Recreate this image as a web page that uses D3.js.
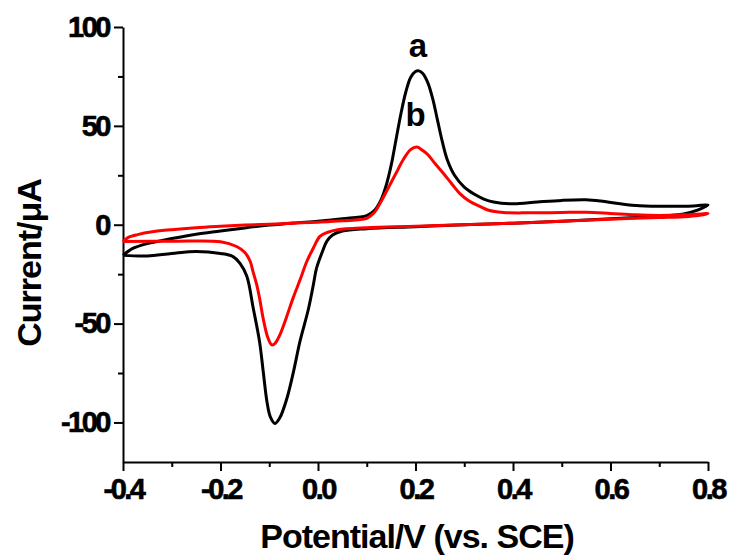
<!DOCTYPE html>
<html><head><meta charset="utf-8">
<script src="https://cdn.jsdelivr.net/npm/d3@7"></script>
<style>
html,body{margin:0;padding:0;background:#fff;}
svg text{font-family:"Liberation Sans",Arial,sans-serif;font-weight:bold;}
</style></head>
<body><svg id="chart" width="732" height="556"></svg>
<script>
// ---- data (potential V, current µA) ----
const xTicks = [-0.4, -0.2, 0.0, 0.2, 0.4, 0.6, 0.8];
const xMinorTicks = [-0.3, -0.1, 0.1, 0.3, 0.5, 0.7];
const yTicks = [-100, -50, 0, 50, 100];
const yMinorTicks = [-75, -25, 25, 75];
const seriesNames = ["a", "b"];
const seriesColors = ["#000000", "#ff0000"];

const aForward = [
  [-0.4,-15.5],[-0.38,-12],[-0.35,-9.5],[-0.3,-7],[-0.25,-4.8],[-0.2,-3.2],[-0.15,-1.6],
  [-0.1,-0.2],[-0.05,0.9],[0.0,1.8],[0.05,3],[0.1,4.6],[0.115,7],[0.13,13],[0.14,20],
  [0.15,30],[0.16,43],[0.17,56],[0.18,67],[0.19,74.5],[0.2,77.5],[0.207,77.8],[0.215,76.5],
  [0.225,72],[0.235,64],[0.245,53],[0.255,42],[0.265,33],[0.28,25],[0.3,19],[0.32,15.5],
  [0.34,13],[0.36,11.5],[0.4,10.6],[0.45,11.5],[0.5,12.3],[0.55,12.6],[0.58,12],
  [0.62,10.6],[0.66,9.6],[0.72,9.3],[0.77,9.5],[0.8,10]
];
const aReverse = [
  [0.8,10],[0.78,7.5],[0.75,5.5],[0.7,4.3],[0.6,3],[0.5,1.8],[0.4,0.8],[0.3,0],
  [0.2,-1],[0.1,-2],[0.05,-3.2],[0.03,-5.2],[0.018,-8.4],[0.01,-13],[-0.003,-22],
  [-0.01,-31],[-0.02,-43],[-0.037,-59],[-0.05,-74],[-0.064,-88],[-0.078,-97.5],
  [-0.088,-100.5],[-0.098,-97],[-0.105,-89],[-0.112,-75],[-0.12,-59],[-0.133,-42],
  [-0.146,-26],[-0.16,-19.5],[-0.175,-16],[-0.2,-14.5],[-0.25,-13.5],[-0.3,-14.5],
  [-0.35,-15.8],[-0.4,-15.5]
];
const bForward = [
  [-0.4,-8.5],[-0.39,-6.5],[-0.37,-5],[-0.34,-3.6],[-0.3,-2.5],[-0.25,-1.5],[-0.2,-0.8],
  [-0.15,-0.2],[-0.1,0.3],[-0.05,0.8],[0.0,1.3],[0.05,2],[0.1,3.2],[0.115,6],[0.13,12],
  [0.145,19],[0.16,26],[0.175,33],[0.19,38],[0.203,39.3],[0.215,37.5],[0.225,35.5],
  [0.24,31],[0.257,26],[0.275,20.5],[0.29,16],[0.31,12],[0.332,9.3],[0.35,7.3],
  [0.38,6.2],[0.43,6],[0.5,6.2],[0.55,6.3],[0.6,5.7],[0.65,5],[0.7,4.7],[0.75,5],[0.8,5.6]
];
const bReverse = [
  [0.8,5.6],[0.78,4.6],[0.75,4],[0.7,3.6],[0.6,2.8],[0.5,1.7],[0.4,0.8],[0.3,0],
  [0.2,-0.8],[0.1,-1.5],[0.04,-2.5],[0.02,-3.8],[0.004,-5.9],[-0.01,-12],[-0.023,-18.6],
  [-0.037,-28],[-0.051,-37],[-0.065,-47],[-0.078,-55.6],[-0.088,-60],[-0.095,-60.8],
  [-0.103,-57],[-0.112,-48],[-0.12,-37],[-0.126,-30],[-0.133,-24],[-0.139,-18.6],
  [-0.15,-14],[-0.167,-11],[-0.2,-8.6],[-0.3,-8.4],[-0.4,-8.5]
];
const labelPositions = [[0.205, 85], [0.2, 50]]; // label anchor in data units

// ---- layout ----
const svg = d3.select("#chart");
const mLeft = 123, mRight = 708, mTop = 27, mBottom = 462;
const x = d3.scaleLinear().domain([-0.4, 0.8]).range([mLeft, mRight]);
const y = d3.scaleLinear().domain([-120, 100]).range([mBottom, mTop]);

const fmtX = v => v.toFixed(1);
const fmtY = v => String(v);

// minor ticks
svg.append("g").attr("transform", `translate(0,${mBottom})`)
  .call(d3.axisBottom(x).tickValues(xMinorTicks).tickSize(5).tickFormat(""))
  .call(g => g.select(".domain").remove())
  .selectAll("line").attr("stroke", "#000").attr("stroke-width", 2);
svg.append("g").attr("transform", `translate(${mLeft},0)`)
  .call(d3.axisLeft(y).tickValues(yMinorTicks).tickSize(5).tickFormat(""))
  .call(g => g.select(".domain").remove())
  .selectAll("line").attr("stroke", "#000").attr("stroke-width", 2);

// major axes
const gx = svg.append("g").attr("transform", `translate(0,${mBottom})`)
  .call(d3.axisBottom(x).tickValues(xTicks).tickSize(9).tickSizeOuter(0).tickPadding(7).tickFormat(fmtX));
const gy = svg.append("g").attr("transform", `translate(${mLeft},0)`)
  .call(d3.axisLeft(y).tickValues(yTicks).tickSize(9).tickSizeOuter(0).tickPadding(5).tickFormat(fmtY));
[gx, gy].forEach(g => {
  g.select(".domain").attr("stroke", "#000").attr("stroke-width", 2);
  g.selectAll(".tick line").attr("stroke", "#000").attr("stroke-width", 2);
  g.selectAll(".tick text").attr("fill", "#000").style("font-size", "29px")
    .style("letter-spacing", "-2.5px").style("font-family", "'Liberation Sans', Arial, sans-serif")
    .style("font-weight", "bold").attr("stroke", "#000").attr("stroke-width", 0.6);
});
gx.selectAll(".tick text").attr("dy", "0.71em");

// curves
const line = d3.line().x(d => x(d[0])).y(d => y(d[1])).curve(d3.curveCatmullRom.alpha(0.5));
const loops = [aForward.concat(aReverse.slice(1)), bForward.concat(bReverse.slice(1))];
loops.forEach((pts, i) => {
  svg.append("path").datum(pts).attr("d", line)
    .attr("fill", "none").attr("stroke", seriesColors[i]).attr("stroke-width", 3)
    .attr("stroke-linejoin", "round");
});

// series labels
seriesNames.forEach((n, i) => {
  svg.append("text").attr("x", x(labelPositions[i][0])).attr("y", y(labelPositions[i][1]))
    .attr("text-anchor", "middle").style("font-size", "33px").attr("fill", "#000").text(n);
});

// axis titles
svg.append("text").attr("x", 417).attr("y", 548).attr("text-anchor", "middle")
  .style("font-size", "34px").style("letter-spacing", "-1px").text("Potential/V (vs. SCE)");
svg.append("text").attr("transform", "translate(41,263) rotate(-90)").attr("text-anchor", "middle")
  .style("font-size", "34px").style("letter-spacing", "-1px").text("Current/μA");
</script></body></html>
